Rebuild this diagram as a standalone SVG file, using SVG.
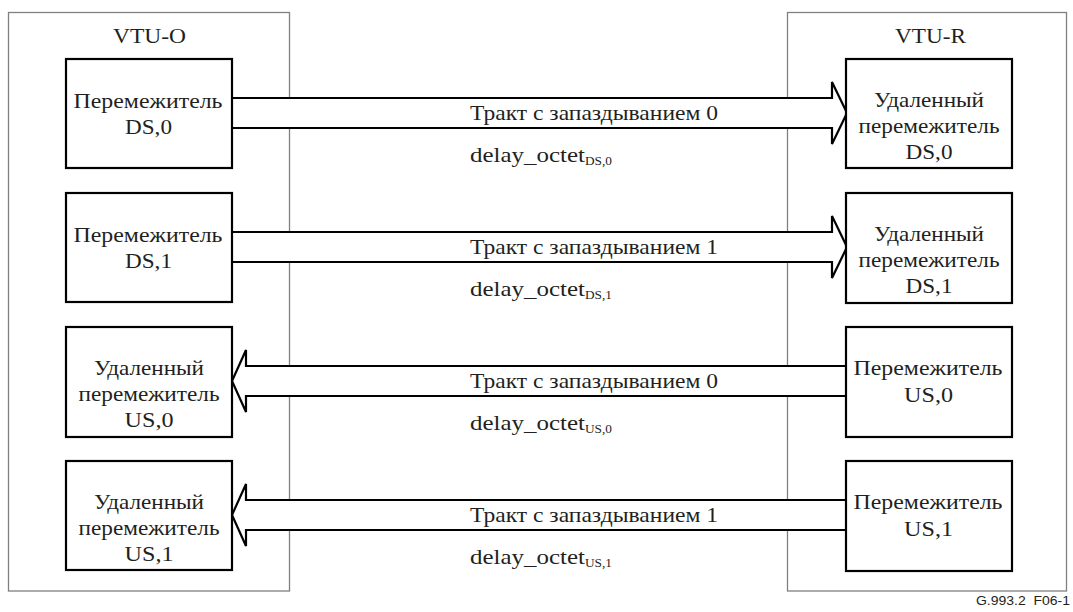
<svg xmlns="http://www.w3.org/2000/svg" width="1073" height="612" viewBox="0 0 1073 612">
<style>
.frame{fill:none;stroke:#808080;stroke-width:1.3}
.box{fill:#fff;stroke:#000;stroke-width:2.2}
.arr{fill:#fff;stroke:#000;stroke-width:2.2;stroke-linejoin:miter}
text{font-family:"Liberation Serif","Times New Roman",serif;fill:#231f20}
.t{font-size:22px;text-anchor:middle}
.m{font-size:22px}
.s{font-size:13.5px}
.f{font-family:"Liberation Sans",Arial,sans-serif;font-size:13.5px;text-anchor:end}
</style>
<rect width="1073" height="612" fill="#fff"/>
<g id="vtu-o">
<rect class="frame" x="8.5" y="12.5" width="281" height="578.5"/>
<text class="t" x="149.5" y="43" textLength="73" lengthAdjust="spacingAndGlyphs">VTU-O</text>
</g>
<g id="vtu-r">
<rect class="frame" x="787.5" y="12.5" width="279" height="578.5"/>
<text class="t" x="930.5" y="43" textLength="71" lengthAdjust="spacingAndGlyphs">VTU-R</text>
</g>
<g id="connectors">
<path class="arr" d="M232,98 H832 V82 L847,113 L832,144 V128 H232"/>
<path class="arr" d="M232,232 H832 V216 L847,247 L832,278 V262 H232"/>
<path class="arr" d="M846,366 H246 V350 L232,381 L246,412 V396 H846"/>
<path class="arr" d="M846,500 H246 V484 L232,515 L246,546 V530 H846"/>
<text class="m" x="594" y="120" text-anchor="middle" textLength="248" lengthAdjust="spacingAndGlyphs">Тракт с запаздыванием 0</text>
<text class="m" x="470" y="162"><tspan textLength="115" lengthAdjust="spacingAndGlyphs">delay_octet</tspan><tspan class="s" dy="3" textLength="27" lengthAdjust="spacingAndGlyphs">DS,0</tspan></text>
<text class="m" x="594" y="254" text-anchor="middle" textLength="248" lengthAdjust="spacingAndGlyphs">Тракт с запаздыванием 1</text>
<text class="m" x="470" y="296"><tspan textLength="115" lengthAdjust="spacingAndGlyphs">delay_octet</tspan><tspan class="s" dy="3" textLength="27" lengthAdjust="spacingAndGlyphs">DS,1</tspan></text>
<text class="m" x="594" y="388" text-anchor="middle" textLength="248" lengthAdjust="spacingAndGlyphs">Тракт с запаздыванием 0</text>
<text class="m" x="470" y="430"><tspan textLength="115" lengthAdjust="spacingAndGlyphs">delay_octet</tspan><tspan class="s" dy="3" textLength="27" lengthAdjust="spacingAndGlyphs">US,0</tspan></text>
<text class="m" x="594" y="522" text-anchor="middle" textLength="248" lengthAdjust="spacingAndGlyphs">Тракт с запаздыванием 1</text>
<text class="m" x="470" y="564"><tspan textLength="115" lengthAdjust="spacingAndGlyphs">delay_octet</tspan><tspan class="s" dy="3" textLength="27" lengthAdjust="spacingAndGlyphs">US,1</tspan></text>
</g>
<g id="int-ds0">
<rect class="box" x="66" y="59" width="166" height="109"/>
<text class="t" x="148" y="108" textLength="149" lengthAdjust="spacingAndGlyphs">Перемежитель</text>
<text class="t" x="148.5" y="134" textLength="47" lengthAdjust="spacingAndGlyphs">DS,0</text>
</g>
<g id="int-ds1">
<rect class="box" x="66" y="193" width="166" height="109"/>
<text class="t" x="148" y="242" textLength="149" lengthAdjust="spacingAndGlyphs">Перемежитель</text>
<text class="t" x="148.5" y="268" textLength="47" lengthAdjust="spacingAndGlyphs">DS,1</text>
</g>
<g id="rem-us0">
<rect class="box" x="66" y="327" width="166" height="110"/>
<text class="t" x="149" y="375" textLength="110" lengthAdjust="spacingAndGlyphs">Удаленный</text>
<text class="t" x="149" y="401" textLength="141" lengthAdjust="spacingAndGlyphs">перемежитель</text>
<text class="t" x="149" y="427" textLength="49" lengthAdjust="spacingAndGlyphs">US,0</text>
</g>
<g id="rem-us1">
<rect class="box" x="66" y="461" width="166" height="109"/>
<text class="t" x="149" y="509" textLength="110" lengthAdjust="spacingAndGlyphs">Удаленный</text>
<text class="t" x="149" y="535" textLength="141" lengthAdjust="spacingAndGlyphs">перемежитель</text>
<text class="t" x="149" y="561" textLength="49" lengthAdjust="spacingAndGlyphs">US,1</text>
</g>
<g id="rem-ds0">
<rect class="box" x="846" y="59" width="166" height="109"/>
<text class="t" x="929" y="107" textLength="110" lengthAdjust="spacingAndGlyphs">Удаленный</text>
<text class="t" x="929" y="133" textLength="141" lengthAdjust="spacingAndGlyphs">перемежитель</text>
<text class="t" x="929" y="159" textLength="47" lengthAdjust="spacingAndGlyphs">DS,0</text>
</g>
<g id="rem-ds1">
<rect class="box" x="846" y="193" width="166" height="110"/>
<text class="t" x="929" y="241" textLength="110" lengthAdjust="spacingAndGlyphs">Удаленный</text>
<text class="t" x="929" y="267" textLength="141" lengthAdjust="spacingAndGlyphs">перемежитель</text>
<text class="t" x="929" y="293" textLength="47" lengthAdjust="spacingAndGlyphs">DS,1</text>
</g>
<g id="int-us0">
<rect class="box" x="846" y="327" width="166" height="110"/>
<text class="t" x="928" y="375" textLength="149" lengthAdjust="spacingAndGlyphs">Перемежитель</text>
<text class="t" x="928.5" y="402" textLength="49" lengthAdjust="spacingAndGlyphs">US,0</text>
</g>
<g id="int-us1">
<rect class="box" x="846" y="461" width="166" height="110"/>
<text class="t" x="928" y="509" textLength="149" lengthAdjust="spacingAndGlyphs">Перемежитель</text>
<text class="t" x="928.5" y="536" textLength="49" lengthAdjust="spacingAndGlyphs">US,1</text>
</g>
<text class="f" x="1070" y="605" xml:space="preserve" textLength="94" lengthAdjust="spacingAndGlyphs">G.993.2  F06-1</text>
</svg>
